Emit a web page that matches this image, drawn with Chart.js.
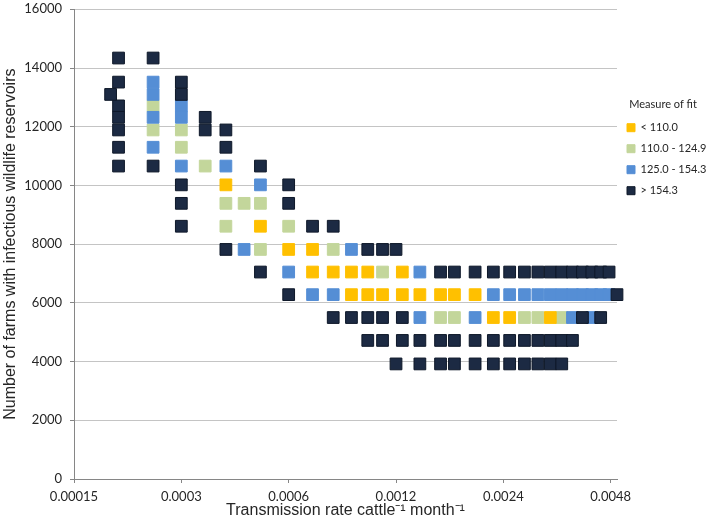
<!DOCTYPE html>
<html>
<head>
<meta charset="utf-8">
<title>Measure of fit</title>
<script src="https://cdn.jsdelivr.net/npm/chart.js@4.4.1/dist/chart.umd.min.js"></script>
<style>
    body { margin: 0; background: #ffffff; }
    #wrap { width: 709px; height: 524px; }
</style>
</head>
<body>
<div id="wrap"><canvas id="fitChart" width="709" height="524"></canvas></div>
<script>
//--- Data (transmission rate, number of farms)
var fitLabels = ['< 110.0', '110.0 - 124.9', '125.0 - 154.3', '> 154.3'];

var fitUnder110 = [
    [0.0004, 10020], [0.0005, 8610], [0.0006, 7820], [0.0007, 7820],
    [0.0007, 7050], [0.0008, 7050], [0.0009, 7050], [0.001, 7050], [0.00125, 7050],
    [0.0009, 6280], [0.001, 6280], [0.0011, 6280], [0.00125, 6280], [0.0014, 6280],
    [0.0016, 6280], [0.00175, 6280], [0.002, 6280],
    [0.00225, 5500], [0.0025, 5500], [0.00325, 5500]
];

var fit110to125 = [
    [0.00025, 12710], [0.00025, 11890], [0.0003, 11890], [0.0003, 11300],
    [0.00035, 10660], [0.0004, 9390], [0.00045, 9390], [0.0005, 9390],
    [0.0004, 8610], [0.0006, 8610], [0.0005, 7820], [0.0008, 7820],
    [0.0011, 7050], [0.0016, 5500], [0.00175, 5500], [0.00275, 5500],
    [0.003, 5500], [0.0035, 5500]
];

var fit125to154 = [
    [0.00025, 13520], [0.00025, 13100], [0.00025, 12320], [0.00025, 11300],
    [0.0003, 12710], [0.0003, 12320], [0.0003, 10660], [0.0004, 10660],
    [0.0005, 10020], [0.00045, 7820], [0.0009, 7820], [0.0006, 7050], [0.0014, 7050],
    [0.0007, 6280], [0.0008, 6280], [0.00225, 6280], [0.0025, 6280], [0.00275, 6280],
    [0.003, 6280], [0.00325, 6280], [0.0035, 6280], [0.00375, 6280], [0.004, 6280],
    [0.00425, 6280], [0.0045, 6280], [0.00475, 6280],
    [0.0014, 5500], [0.002, 5500], [0.00375, 5500], [0.00425, 5500]
];

var fitOver154 = [
    [0.0002, 14340], [0.0002, 13520], [0.0002, 12710], [0.0002, 12320], [0.0002, 11890],
    [0.0002, 11300], [0.0002, 10660], [0.00019, 13100],
    [0.00025, 14340], [0.00025, 10660],
    [0.0003, 13520], [0.0003, 13100], [0.0003, 10020], [0.0003, 9390], [0.0003, 8610],
    [0.00035, 12320], [0.00035, 11890],
    [0.0004, 11890], [0.0004, 11300], [0.0004, 7820],
    [0.0005, 10660], [0.0005, 7050],
    [0.0006, 10020], [0.0006, 9390], [0.0006, 6280],
    [0.0007, 8610], [0.0008, 8610], [0.0008, 5500], [0.0009, 5500],
    [0.001, 7820], [0.001, 5500], [0.001, 4720],
    [0.0011, 7820], [0.0011, 5500], [0.0011, 4720],
    [0.0012, 7820], [0.00125, 5500], [0.00125, 4720], [0.0012, 3920],
    [0.0016, 7050], [0.00175, 7050], [0.002, 7050], [0.00225, 7050], [0.0025, 7050],
    [0.00275, 7050], [0.003, 7050], [0.00325, 7050], [0.0035, 7050], [0.00375, 7050],
    [0.004, 7050], [0.00425, 7050], [0.0045, 7050], [0.00475, 7050],
    [0.0014, 4720], [0.0016, 4720], [0.00175, 4720], [0.002, 4720], [0.00225, 4720],
    [0.0025, 4720], [0.00275, 4720], [0.003, 4720], [0.00325, 4720], [0.0035, 4720],
    [0.00375, 4720],
    [0.0014, 3920], [0.0016, 3920], [0.00175, 3920], [0.002, 3920], [0.00225, 3920],
    [0.0025, 3920], [0.00275, 3920], [0.003, 3920], [0.00325, 3920], [0.0035, 3920],
    [0.004, 5500], [0.0045, 5500], [0.005, 6280]
];

var xTickValues = [0.00015, 0.0003, 0.0006, 0.0012, 0.0024, 0.0048];
var xTickLabels = ['0.00015', '0.0003', '0.0006', '0.0012', '0.0024', '0.0048'];

//--- Styles
var fitColors = ['#FFC000', '#C3D69B', '#558ED5', '#1C2A43'];
var fitBorders = ['#FFC000', '#C3D69B', '#558ED5', '#0E1829'];
var drawOrder = [2, 3, 1, 0];   // dark on top, green at the bottom
var tickFont = { family: 'Lato', size: 13 };
var legendFont = { family: 'Lato', size: 11 };
var titleFont = { family: 'Liberation Sans', size: 16 };
var textColor = '#262626';
var axisColor = '#868686';

function toPoints(pairs) {
    return pairs.map(function (p) { return { x: p[0], y: p[1] }; });
}

function createChart() {
    var ctx = document.getElementById('fitChart');
    var series = [fitUnder110, fit110to125, fit125to154, fitOver154];

    var datasets = series.map(function (pairs, i) {
        return {
            label: fitLabels[i],
            data: toPoints(pairs),
            order: drawOrder[i],
            pointStyle: 'rect',
            pointRadius: 8.3,
            pointHoverRadius: 8.3,
            backgroundColor: fitColors[i],
            borderColor: fitBorders[i],
            borderWidth: 1,
            clip: false
        };
    });

    new Chart(ctx, {
        type: 'scatter',
        data: { datasets: datasets },
        options: {
            responsive: false,
            animation: false,
            devicePixelRatio: 1,
            layout: { padding: { top: 4, left: 0, right: 0, bottom: 0 } },
            scales: {
                x: {
                    type: 'logarithmic',
                    min: 0.00015,
                    max: 0.005,
                    afterBuildTicks: function (axis) {
                        axis.ticks = xTickValues.map(function (v) { return { value: v }; });
                    },
                    afterFit: function (axis) {
                        axis.height = 45;
                        axis.paddingLeft = 0;
                        axis.paddingRight = 0;
                    },
                    ticks: {
                        autoSkip: false,
                        maxRotation: 0,
                        padding: 6,
                        font: tickFont,
                        color: textColor,
                        callback: function (value, index) { return xTickLabels[index]; }
                    },
                    grid: { drawOnChartArea: false, tickLength: 4, tickColor: axisColor },
                    border: { color: axisColor },
                    title: {
                        display: true,
                        text: 'Transmission rate cattle\u207B\u00B9 month\u207B\u00B9',
                        font: titleFont,
                        color: textColor,
                        padding: { top: 0, bottom: 4 }
                    }
                },
                y: {
                    min: 0,
                    max: 16000,
                    afterFit: function (axis) {
                        axis.width = 74;
                        axis.paddingTop = 0;
                        axis.paddingBottom = 0;
                    },
                    ticks: {
                        stepSize: 2000,
                        padding: 8,
                        font: tickFont,
                        color: textColor,
                        callback: function (value) { return String(value); }
                    },
                    grid: { color: '#C4C4C4', tickLength: 4, tickColor: axisColor },
                    border: { color: axisColor },
                    title: {
                        display: true,
                        text: 'Number of farms with infectious wildlife reservoirs',
                        font: titleFont,
                        color: textColor,
                        padding: { top: 1, bottom: 0 }
                    }
                }
            },
            plugins: {
                tooltip: { enabled: false },
                legend: {
                    position: 'right',
                    align: 'start',
                    maxWidth: 92,
                    title: {
                        display: true,
                        text: 'Measure of fit',
                        color: textColor,
                        font: legendFont,
                        padding: { top: 95, bottom: 0 }
                    },
                    labels: {
                        boxWidth: 8,
                        boxHeight: 8,
                        padding: 10,
                        color: textColor,
                        font: legendFont,
                        sort: function (a, b) { return a.datasetIndex - b.datasetIndex; }
                    }
                }
            }
        }
    });
}

createChart();
console.log('chart ready');
</script>
</body>
</html>
